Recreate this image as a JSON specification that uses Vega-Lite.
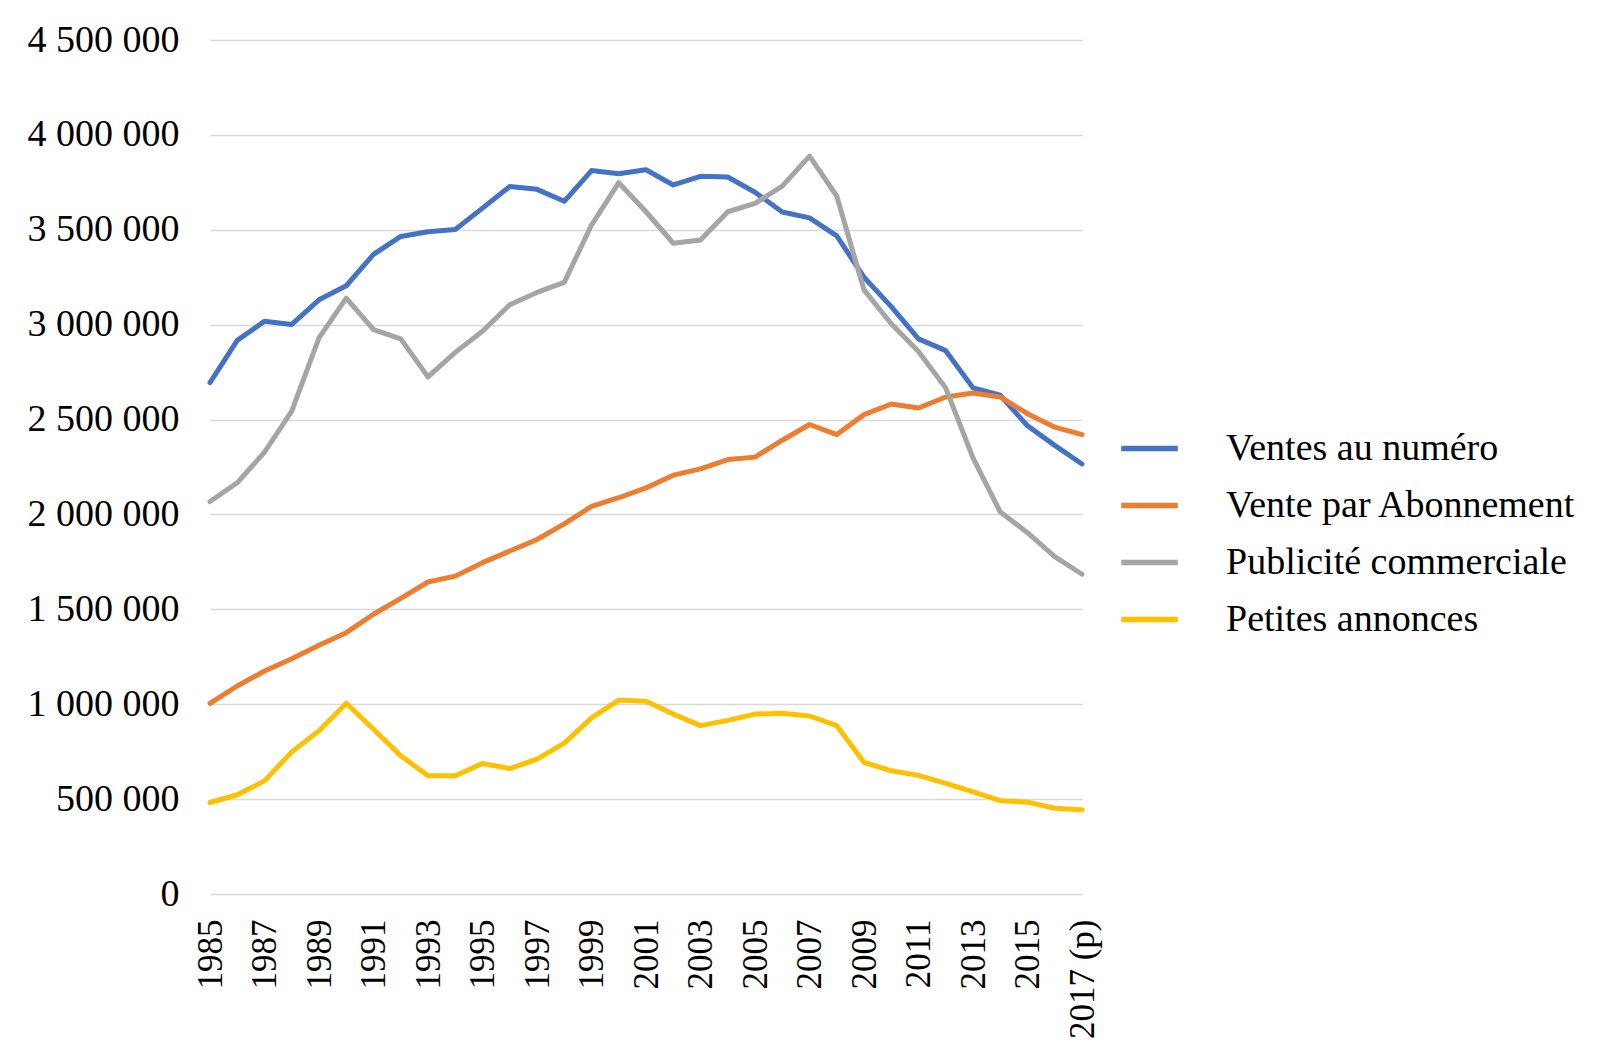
{
  "$schema": "https://vega.github.io/schema/vega-lite/v6.json",
  "autosize": {"type": "none"},
  "padding": {"left": 210, "top": 40, "right": 516, "bottom": 162},
  "width": 872,
  "height": 854,
  "background": "white",
  "config": {
    "view": {"stroke": null},
    "font": "Liberation Serif"
  },
  "data": {
    "values": [
      {"annee":"1985","serie":"Ventes au numéro","valeur":2695000},
      {"annee":"1986","serie":"Ventes au numéro","valeur":2917000},
      {"annee":"1987","serie":"Ventes au numéro","valeur":3018000},
      {"annee":"1988","serie":"Ventes au numéro","valeur":3001000},
      {"annee":"1989","serie":"Ventes au numéro","valeur":3131000},
      {"annee":"1990","serie":"Ventes au numéro","valeur":3205000},
      {"annee":"1991","serie":"Ventes au numéro","valeur":3370000},
      {"annee":"1992","serie":"Ventes au numéro","valeur":3465000},
      {"annee":"1993","serie":"Ventes au numéro","valeur":3490000},
      {"annee":"1994","serie":"Ventes au numéro","valeur":3501000},
      {"annee":"1995","serie":"Ventes au numéro","valeur":3614000},
      {"annee":"1996","serie":"Ventes au numéro","valeur":3728000},
      {"annee":"1997","serie":"Ventes au numéro","valeur":3713000},
      {"annee":"1998","serie":"Ventes au numéro","valeur":3650000},
      {"annee":"1999","serie":"Ventes au numéro","valeur":3812000},
      {"annee":"2000","serie":"Ventes au numéro","valeur":3795000},
      {"annee":"2001","serie":"Ventes au numéro","valeur":3816000},
      {"annee":"2002","serie":"Ventes au numéro","valeur":3736000},
      {"annee":"2003","serie":"Ventes au numéro","valeur":3782000},
      {"annee":"2004","serie":"Ventes au numéro","valeur":3778000},
      {"annee":"2005","serie":"Ventes au numéro","valeur":3698000},
      {"annee":"2006","serie":"Ventes au numéro","valeur":3594000},
      {"annee":"2007","serie":"Ventes au numéro","valeur":3563000},
      {"annee":"2008","serie":"Ventes au numéro","valeur":3468000},
      {"annee":"2009","serie":"Ventes au numéro","valeur":3250000},
      {"annee":"2010","serie":"Ventes au numéro","valeur":3095000},
      {"annee":"2011","serie":"Ventes au numéro","valeur":2925000},
      {"annee":"2012","serie":"Ventes au numéro","valeur":2863000},
      {"annee":"2013","serie":"Ventes au numéro","valeur":2667000},
      {"annee":"2014","serie":"Ventes au numéro","valeur":2628000},
      {"annee":"2015","serie":"Ventes au numéro","valeur":2467000},
      {"annee":"2016","serie":"Ventes au numéro","valeur":2364000},
      {"annee":"2017 (p)","serie":"Ventes au numéro","valeur":2266000},
      {"annee":"1985","serie":"Vente par Abonnement","valeur":1005000},
      {"annee":"1986","serie":"Vente par Abonnement","valeur":1096000},
      {"annee":"1987","serie":"Vente par Abonnement","valeur":1175000},
      {"annee":"1988","serie":"Vente par Abonnement","valeur":1240000},
      {"annee":"1989","serie":"Vente par Abonnement","valeur":1311000},
      {"annee":"1990","serie":"Vente par Abonnement","valeur":1377000},
      {"annee":"1991","serie":"Vente par Abonnement","valeur":1474000},
      {"annee":"1992","serie":"Vente par Abonnement","valeur":1558000},
      {"annee":"1993","serie":"Vente par Abonnement","valeur":1644000},
      {"annee":"1994","serie":"Vente par Abonnement","valeur":1675000},
      {"annee":"1995","serie":"Vente par Abonnement","valeur":1746000},
      {"annee":"1996","serie":"Vente par Abonnement","valeur":1807000},
      {"annee":"1997","serie":"Vente par Abonnement","valeur":1868000},
      {"annee":"1998","serie":"Vente par Abonnement","valeur":1950000},
      {"annee":"1999","serie":"Vente par Abonnement","valeur":2042000},
      {"annee":"2000","serie":"Vente par Abonnement","valeur":2088000},
      {"annee":"2001","serie":"Vente par Abonnement","valeur":2140000},
      {"annee":"2002","serie":"Vente par Abonnement","valeur":2207000},
      {"annee":"2003","serie":"Vente par Abonnement","valeur":2240000},
      {"annee":"2004","serie":"Vente par Abonnement","valeur":2289000},
      {"annee":"2005","serie":"Vente par Abonnement","valeur":2302000},
      {"annee":"2006","serie":"Vente par Abonnement","valeur":2391000},
      {"annee":"2007","serie":"Vente par Abonnement","valeur":2474000},
      {"annee":"2008","serie":"Vente par Abonnement","valeur":2421000},
      {"annee":"2009","serie":"Vente par Abonnement","valeur":2526000},
      {"annee":"2010","serie":"Vente par Abonnement","valeur":2582000},
      {"annee":"2011","serie":"Vente par Abonnement","valeur":2561000},
      {"annee":"2012","serie":"Vente par Abonnement","valeur":2619000},
      {"annee":"2013","serie":"Vente par Abonnement","valeur":2640000},
      {"annee":"2014","serie":"Vente par Abonnement","valeur":2619000},
      {"annee":"2015","serie":"Vente par Abonnement","valeur":2531000},
      {"annee":"2016","serie":"Vente par Abonnement","valeur":2460000},
      {"annee":"2017 (p)","serie":"Vente par Abonnement","valeur":2421000},
      {"annee":"1985","serie":"Publicité commerciale","valeur":2068000},
      {"annee":"1986","serie":"Publicité commerciale","valeur":2167000},
      {"annee":"1987","serie":"Publicité commerciale","valeur":2328000},
      {"annee":"1988","serie":"Publicité commerciale","valeur":2544000},
      {"annee":"1989","serie":"Publicité commerciale","valeur":2930000},
      {"annee":"1990","serie":"Publicité commerciale","valeur":3140000},
      {"annee":"1991","serie":"Publicité commerciale","valeur":2974000},
      {"annee":"1992","serie":"Publicité commerciale","valeur":2925000},
      {"annee":"1993","serie":"Publicité commerciale","valeur":2725000},
      {"annee":"1994","serie":"Publicité commerciale","valeur":2854000},
      {"annee":"1995","serie":"Publicité commerciale","valeur":2965000},
      {"annee":"1996","serie":"Publicité commerciale","valeur":3105000},
      {"annee":"1997","serie":"Publicité commerciale","valeur":3170000},
      {"annee":"1998","serie":"Publicité commerciale","valeur":3223000},
      {"annee":"1999","serie":"Publicité commerciale","valeur":3525000},
      {"annee":"2000","serie":"Publicité commerciale","valeur":3748000},
      {"annee":"2001","serie":"Publicité commerciale","valeur":3595000},
      {"annee":"2002","serie":"Publicité commerciale","valeur":3429000},
      {"annee":"2003","serie":"Publicité commerciale","valeur":3446000},
      {"annee":"2004","serie":"Publicité commerciale","valeur":3595000},
      {"annee":"2005","serie":"Publicité commerciale","valeur":3639000},
      {"annee":"2006","serie":"Publicité commerciale","valeur":3730000},
      {"annee":"2007","serie":"Publicité commerciale","valeur":3888000},
      {"annee":"2008","serie":"Publicité commerciale","valeur":3678000},
      {"annee":"2009","serie":"Publicité commerciale","valeur":3183000},
      {"annee":"2010","serie":"Publicité commerciale","valeur":3005000},
      {"annee":"2011","serie":"Publicité commerciale","valeur":2859000},
      {"annee":"2012","serie":"Publicité commerciale","valeur":2666000},
      {"annee":"2013","serie":"Publicité commerciale","valeur":2298000},
      {"annee":"2014","serie":"Publicité commerciale","valeur":2013000},
      {"annee":"2015","serie":"Publicité commerciale","valeur":1904000},
      {"annee":"2016","serie":"Publicité commerciale","valeur":1778000},
      {"annee":"2017 (p)","serie":"Publicité commerciale","valeur":1685000},
      {"annee":"1985","serie":"Petites annonces","valeur":482000},
      {"annee":"1986","serie":"Petites annonces","valeur":523000},
      {"annee":"1987","serie":"Petites annonces","valeur":596000},
      {"annee":"1988","serie":"Petites annonces","valeur":749000},
      {"annee":"1989","serie":"Petites annonces","valeur":860000},
      {"annee":"1990","serie":"Petites annonces","valeur":1005000},
      {"annee":"1991","serie":"Petites annonces","valeur":868000},
      {"annee":"1992","serie":"Petites annonces","valeur":728000},
      {"annee":"1993","serie":"Petites annonces","valeur":623000},
      {"annee":"1994","serie":"Petites annonces","valeur":623000},
      {"annee":"1995","serie":"Petites annonces","valeur":688000},
      {"annee":"1996","serie":"Petites annonces","valeur":661000},
      {"annee":"1997","serie":"Petites annonces","valeur":711000},
      {"annee":"1998","serie":"Petites annonces","valeur":795000},
      {"annee":"1999","serie":"Petites annonces","valeur":928000},
      {"annee":"2000","serie":"Petites annonces","valeur":1022000},
      {"annee":"2001","serie":"Petites annonces","valeur":1016000},
      {"annee":"2002","serie":"Petites annonces","valeur":948000},
      {"annee":"2003","serie":"Petites annonces","valeur":887000},
      {"annee":"2004","serie":"Petites annonces","valeur":915000},
      {"annee":"2005","serie":"Petites annonces","valeur":948000},
      {"annee":"2006","serie":"Petites annonces","valeur":952000},
      {"annee":"2007","serie":"Petites annonces","valeur":938000},
      {"annee":"2008","serie":"Petites annonces","valeur":887000},
      {"annee":"2009","serie":"Petites annonces","valeur":694000},
      {"annee":"2010","serie":"Petites annonces","valeur":649000},
      {"annee":"2011","serie":"Petites annonces","valeur":625000},
      {"annee":"2012","serie":"Petites annonces","valeur":583000},
      {"annee":"2013","serie":"Petites annonces","valeur":538000},
      {"annee":"2014","serie":"Petites annonces","valeur":492000},
      {"annee":"2015","serie":"Petites annonces","valeur":484000},
      {"annee":"2016","serie":"Petites annonces","valeur":452000},
      {"annee":"2017 (p)","serie":"Petites annonces","valeur":444000}
    ]
  },
  "mark": {"type": "line", "strokeWidth": 5, "strokeCap": "round", "strokeJoin": "round"},
  "encoding": {
    "x": {
      "field": "annee",
      "type": "ordinal",
      "sort": null,
      "scale": {"type": "point", "padding": 0},
      "axis": {
        "title": null,
        "domain": false,
        "ticks": false,
        "tickSize": 0,
        "grid": false,
        "labelAngle": -90,
        "labelAlign": "right",
        "labelBaseline": "middle",
        "labelPadding": 25,
        "labelFont": "Liberation Serif",
        "labelFontSize": 35,
        "labelColor": "black",
        "labelOverlap": false,
        "values": ["1985","1987","1989","1991","1993","1995","1997","1999","2001","2003","2005","2007","2009","2011","2013","2015","2017 (p)"]
      }
    },
    "y": {
      "field": "valeur",
      "type": "quantitative",
      "scale": {"domain": [0, 4500000], "nice": false, "zero": true},
      "axis": {
        "title": null,
        "domain": false,
        "ticks": false,
        "tickSize": 0,
        "grid": true,
        "gridColor": "#D9D9D9",
        "gridWidth": 1.5,
        "values": [0, 500000, 1000000, 1500000, 2000000, 2500000, 3000000, 3500000, 4000000, 4500000],
        "labelExpr": "replace(format(datum.value, ','), /,/g, ' ')",
        "labelPadding": 31,
        "labelFont": "Liberation Serif",
        "labelFontSize": 38,
        "labelColor": "black",
        "labelBaseline": "middle"
      }
    },
    "color": {
      "field": "serie",
      "type": "nominal",
      "scale": {
        "domain": ["Ventes au numéro", "Vente par Abonnement", "Publicité commerciale", "Petites annonces"],
        "range": ["#4472C4", "#ED7D31", "#A5A5A5", "#FFC000"]
      },
      "legend": {
        "title": null,
        "orient": "none",
        "legendX": 908,
        "legendY": 377,
        "padding": 0,
        "symbolType": "stroke",
        "symbolSize": 3200,
        "symbolStrokeWidth": 5.5,
        "rowPadding": 6,
        "labelOffset": 45,
        "labelFont": "Liberation Serif",
        "labelFontSize": 38,
        "labelColor": "black",
        "labelLimit": 600,
        "labelExpr": "(datum.label == 'Vente par Abonnement' || datum.label == 'Petites annonces') ? '\u2005' + datum.label : datum.label"
      }
    }
  }
}
